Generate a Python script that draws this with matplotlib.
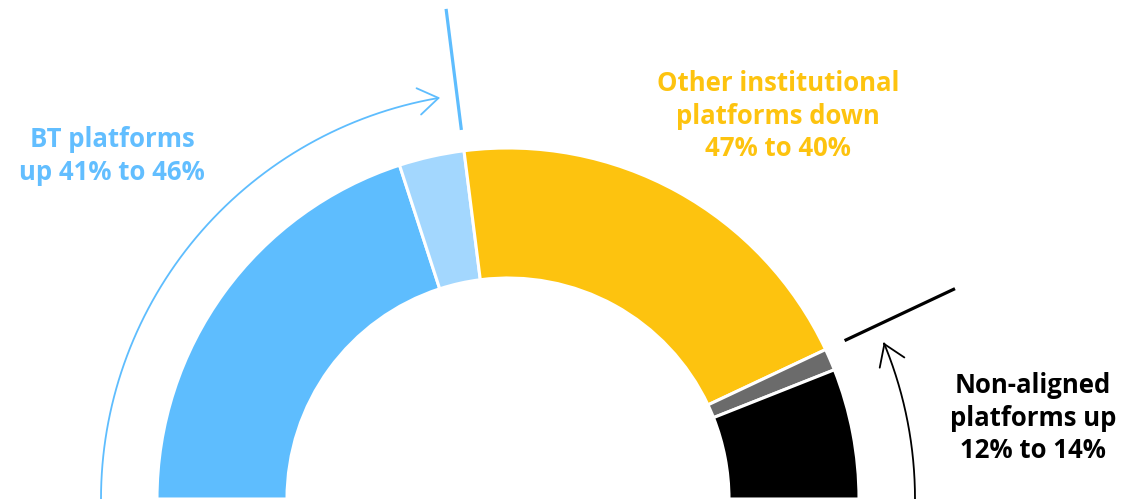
import numpy as np
import matplotlib
matplotlib.use("Agg")
import matplotlib.pyplot as plt
from matplotlib.patches import FancyArrowPatch
from matplotlib.path import Path

# ---- data ----
segments = ["BT platforms (base)", "BT platforms (gain)", "Other institutional platforms",
            "Non-aligned platforms (gain)", "Non-aligned platforms (base)"]
shares = [40, 6, 40, 2, 12]
colors = ["#5EBDFE", "#A3D7FE", "#FDC30F", "#6B6B6B", "#000000"]
labels = ["BT platforms\nup 41% to 46%",
          "Other institutional\nplatforms down\n47% to 40%",
          "Non-aligned\nplatforms up\n12% to 14%"]
label_colors = ["#62BEFF", "#FDC30F", "#000000"]
bt_total = 46
na_total = 14

W, H = 1135, 499
cx = 508
fig = plt.figure(figsize=(W / 100, H / 100), dpi=100)
ax = fig.add_axes([0, 0, 1, 1])

R_out, R_in = 351, 221
vals = shares + [sum(shares)]
cols = colors + ["none"]
wedges, _ = ax.pie(vals, colors=cols, startangle=180, counterclock=False,
                   radius=R_out, center=(0, 0),
                   wedgeprops=dict(width=R_out - R_in, edgecolor="white", linewidth=2.2))
wedges[-1].set_edgecolor("none")
wedges[-1].set_facecolor("none")

ax.set_xlim(-cx, W - cx)
ax.set_ylim(0, H)
ax.set_aspect("equal")
ax.axis("off")

total = sum(shares)
ang_bt = np.radians(180 - 180 * bt_total / total)
ang_na = np.radians(180 * na_total / total)

# radial tick lines at group boundaries
r1, r2 = 372, 494
ax.plot([r1 * np.cos(ang_bt), r2 * np.cos(ang_bt)], [r1 * np.sin(ang_bt), r2 * np.sin(ang_bt)],
        color="#5EBDFE", lw=2.3, solid_capstyle="butt")
ax.plot([r1 * np.cos(ang_na), r2 * np.cos(ang_na)], [r1 * np.sin(ang_na), r2 * np.sin(ang_na)],
        color="black", lw=2.3, solid_capstyle="butt")

# arrow arcs
R_arc = 407
def arc(a0, a1, color):
    t = np.linspace(a0, a1, 200)
    pts = np.column_stack([R_arc * np.cos(t), R_arc * np.sin(t)])
    p = FancyArrowPatch(path=Path(pts), arrowstyle="->,head_length=9,head_width=6",
                        color=color, lw=1.3, mutation_scale=1.6)
    ax.add_patch(p)

arc(np.pi, ang_bt + np.radians(2.4), "#5EBDFE")
arc(0.0, ang_na - np.radians(2.6), "black")

fp = dict(family="Open Sans", weight="bold", fontsize=18.5, ha="center", va="center",
          linespacing=1.25)
ax.text(112 - cx, H - 156, labels[0], color=label_colors[0], **fp)
ax.text(778 - cx, H - 116, labels[1], color=label_colors[1], **fp)
ax.text(1033 - cx, H - 418, labels[2], color=label_colors[2], **fp)

fig.savefig("out.png", dpi=100)
